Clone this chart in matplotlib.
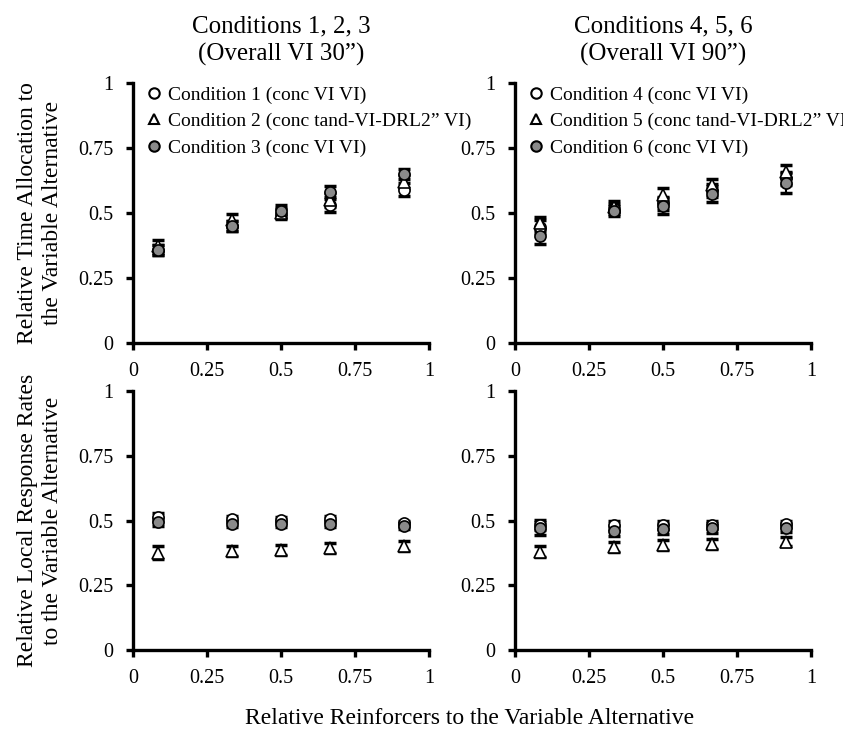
import matplotlib
matplotlib.use("Agg")
import matplotlib.pyplot as plt
from matplotlib.lines import Line2D

plt.rcParams['font.family'] = ['Liberation Serif', 'DejaVu Serif']

# relative reinforcers to the variable alternative
x = [0.083, 0.333, 0.5, 0.667, 0.917]
ticks = [0, 0.25, 0.5, 0.75, 1]
tick_labels = ['0', '0.25', '0.5', '0.75', '1']

# time allocation, conditions 1-3
time_c1 = [0.358, 0.45, 0.496, 0.53, 0.59]
time_c2 = [0.373, 0.473, 0.50, 0.55, 0.62]
time_c3 = [0.358, 0.45, 0.509, 0.582, 0.65]
time_c1_err = [0.02, 0.02, 0.02, 0.025, 0.025]
time_c2_err = [0.025, 0.025, 0.02, 0.025, 0.025]
time_c3_err = [0.02, 0.02, 0.02, 0.02, 0.02]

# time allocation, conditions 4-6
time_c4 = [0.447, 0.515, 0.537, 0.588, 0.633]
time_c5 = [0.46, 0.525, 0.569, 0.608, 0.659]
time_c6 = [0.41, 0.508, 0.527, 0.573, 0.615]
time_c4_err = [0.025, 0.02, 0.025, 0.025, 0.025]
time_c5_err = [0.026, 0.02, 0.028, 0.022, 0.026]
time_c6_err = [0.03, 0.02, 0.03, 0.03, 0.037]

# local response rates, conditions 1-3
rate_c1 = [0.515, 0.506, 0.502, 0.505, 0.489]
rate_c2 = [0.376, 0.382, 0.386, 0.393, 0.401]
rate_c3 = [0.495, 0.485, 0.485, 0.485, 0.479]
rate_c1_err = [0.015, 0.012, 0.012, 0.012, 0.01]
rate_c2_err = [0.024, 0.02, 0.02, 0.02, 0.02]
rate_c3_err = [0.015, 0.012, 0.012, 0.012, 0.01]

# local response rates, conditions 4-6
rate_c4 = [0.483, 0.483, 0.483, 0.483, 0.486]
rate_c5 = [0.38, 0.397, 0.405, 0.409, 0.418]
rate_c6 = [0.47, 0.46, 0.467, 0.47, 0.47]
rate_c4_err = [0.02, 0.015, 0.015, 0.015, 0.012]
rate_c5_err = [0.02, 0.02, 0.02, 0.018, 0.018]
rate_c6_err = [0.025, 0.02, 0.02, 0.02, 0.015]

left_labels = ['Condition 1 (conc VI VI)', 'Condition 2 (conc tand-VI-DRL2\u201d VI)',
               'Condition 3 (conc VI VI)']
right_labels = ['Condition 4 (conc VI VI)', 'Condition 5 (conc tand-VI-DRL2\u201d VI)',
                'Condition 6 (conc VI VI)']

GRAY = '#8a8a8a'
styles = [dict(marker='o', mfc='white'), dict(marker='^', mfc='white'),
          dict(marker='o', mfc=GRAY)]


def draw(ax, series, errs):
    for ys, es, st in zip(series, errs, styles):
        ax.errorbar(x, ys, yerr=es, fmt='none', ecolor='black', elinewidth=1.5,
                    capsize=4, capthick=2.5, zorder=2)
        ax.plot(x, ys, ls='none', marker=st['marker'], mfc=st['mfc'], mec='black',
                mew=1.2, ms=8 if st['marker'] == 'o' else 8.5, zorder=3)
    ax.set_xlim(0, 1)
    ax.set_ylim(0, 1)
    ax.set_xticks(ticks)
    ax.set_xticklabels(tick_labels)
    ax.set_yticks(ticks)
    ax.set_yticklabels(tick_labels)
    for s in ['top', 'right']:
        ax.spines[s].set_visible(False)
    for s in ['left', 'bottom']:
        ax.spines[s].set_linewidth(2.4)
    ax.tick_params(direction='out', length=5, width=2.4, labelsize=14.5, pad=9)


def legend(ax, labels):
    handles = [Line2D([], [], ls='none', marker=st['marker'], mfc=st['mfc'], mec='black',
                      mew=1.5, ms=7.5) for st in styles]
    ax.legend(handles, labels, loc='upper left', bbox_to_anchor=(0.0, 1.04),
              frameon=False, fontsize=14, handlelength=0.8, handletextpad=0.3,
              labelspacing=0.45, borderaxespad=0.3)


fig = plt.figure(figsize=(8.43, 7.33), dpi=100)
W, H = 843, 733


def make_axes(x0, y0, x1, y1):
    return fig.add_axes([x0 / W, 1 - y1 / H, (x1 - x0) / W, (y1 - y0) / H])


ax1 = make_axes(133, 83, 429, 343)
ax2 = make_axes(515, 83, 811, 343)
ax3 = make_axes(133, 391, 429, 650)
ax4 = make_axes(515, 391, 811, 650)

draw(ax1, [time_c1, time_c2, time_c3], [time_c1_err, time_c2_err, time_c3_err])
draw(ax2, [time_c4, time_c5, time_c6], [time_c4_err, time_c5_err, time_c6_err])
draw(ax3, [rate_c1, rate_c2, rate_c3], [rate_c1_err, rate_c2_err, rate_c3_err])
draw(ax4, [rate_c4, rate_c5, rate_c6], [rate_c4_err, rate_c5_err, rate_c6_err])

legend(ax1, left_labels)
legend(ax2, right_labels)

ax1.set_title('Conditions 1, 2, 3\n(Overall VI 30\u201d)', fontsize=18, pad=16,
              linespacing=1.3)
ax2.set_title('Conditions 4, 5, 6\n(Overall VI 90\u201d)', fontsize=18, pad=16,
              linespacing=1.3)

ax1.set_ylabel('Relative Time Allocation to\nthe Variable Alternative', fontsize=17,
               linespacing=1.3)
ax3.set_ylabel('Relative Local Response Rates\nto the Variable Alternative', fontsize=17,
               linespacing=1.3)
ax1.yaxis.set_label_coords(-0.235, 0.5)
ax3.yaxis.set_label_coords(-0.235, 0.5)

fig.text(470 / W, 1 - 718 / H, 'Relative Reinforcers to the Variable Alternative',
         ha='center', va='center', fontsize=17)

fig.savefig('out.png', dpi=100)
